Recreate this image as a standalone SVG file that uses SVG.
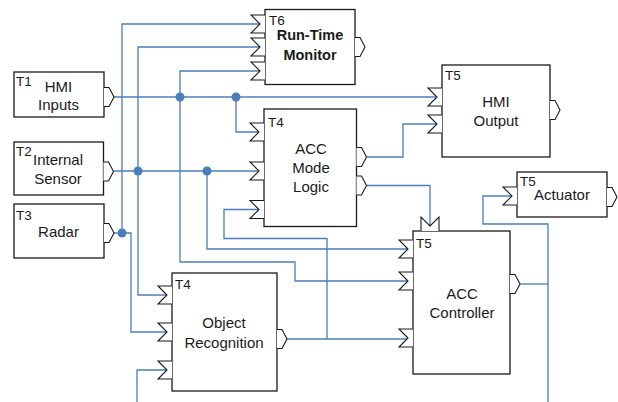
<svg xmlns="http://www.w3.org/2000/svg" width="618" height="402" viewBox="0 0 618 402">
<style>
.box{fill:#fff;stroke:#1a1a1a;stroke-width:1.3}
.port{fill:#fff;stroke:#1a1a1a;stroke-width:1.1;stroke-linejoin:miter}
.wire{fill:none;stroke:#4a7ebb;stroke-width:1.3}
.dot{fill:#4a7ebb}
.t{font-family:"Liberation Sans",Arial,sans-serif;font-size:15px;fill:#1a1a1a;text-anchor:middle}
.tag{font-family:"Liberation Sans",Arial,sans-serif;font-size:13.5px;fill:#1a1a1a}
.b{font-weight:bold;font-size:14.5px}
</style>
<defs>
<path id="in" class="port" d="M0,-9 H-14 L-5,0 L-14,9 H0"/>
<path id="out" class="port" d="M0,-9.5 H5 L10,0 L5,9.5 H0"/>
</defs>
<g id="connectors">
<path class="wire" d="M114,97 H437"/>
<path class="wire" d="M260,71 H180 V262 H295 V281 H408"/>
<path class="wire" d="M236,97 V132 H259"/>
<path class="wire" d="M114,171 H259"/>
<path class="wire" d="M260,47 H138 V295 H167"/>
<path class="wire" d="M207,171 V249 H408"/>
<path class="wire" d="M114,233 H122"/>
<path class="wire" d="M260,24 H122 V233 H131 V332 H167"/>
<path class="wire" d="M367,157 H403 V124 H437"/>
<path class="wire" d="M367,185.5 H430 V226"/>
<path class="wire" d="M287,339 H408"/>
<path class="wire" d="M327,339 V238.5 H224 V209.5 H259"/>
<path class="wire" d="M520,284 H548"/>
<path class="wire" d="M548,402 V224 H483 V196 H512"/>
<path class="wire" d="M137,402 V370 H167"/>
<circle class="dot" cx="180" cy="97" r="4.5"/>
<circle class="dot" cx="236" cy="97" r="4.5"/>
<circle class="dot" cx="138" cy="171" r="4.5"/>
<circle class="dot" cx="207" cy="171" r="4.5"/>
<circle class="dot" cx="122" cy="233" r="4.5"/>
</g>
<g id="t1-hmi-inputs">
<rect class="box" x="14" y="72" width="90" height="45"/>
<use href="#out" x="104" y="97"/>
<text class="tag" x="16" y="86">T1</text>
<text class="t" x="58.5" y="92">HMI</text>
<text class="t" x="58.5" y="110">Inputs</text>
</g>
<g id="t2-internal-sensor">
<rect class="box" x="14" y="142" width="89.5" height="53"/>
<use href="#out" x="103.5" y="171.5"/>
<text class="tag" x="16" y="156">T2</text>
<text class="t" x="58" y="164.5">Internal</text>
<text class="t" x="58" y="184">Sensor</text>
</g>
<g id="t3-radar">
<rect class="box" x="14" y="204" width="90" height="54"/>
<use href="#out" x="104" y="233"/>
<text class="tag" x="16" y="220">T3</text>
<text class="t" x="58.5" y="237">Radar</text>
</g>
<g id="t6-run-time-monitor">
<rect class="box" x="265" y="9.5" width="90" height="75"/>
<use href="#in" x="265" y="24"/>
<use href="#in" x="265" y="47"/>
<use href="#in" x="265" y="71"/>
<use href="#out" x="355" y="47"/>
<text class="tag" x="269" y="25">T6</text>
<text class="t b" x="310" y="40">Run-Time</text>
<text class="t b" x="310" y="60">Monitor</text>
</g>
<g id="t5-hmi-output">
<rect class="box" x="442" y="65" width="108" height="92"/>
<use href="#in" x="442" y="97"/>
<use href="#in" x="442" y="124"/>
<use href="#out" x="550" y="110"/>
<text class="tag" x="445" y="80">T5</text>
<text class="t" x="496" y="107">HMI</text>
<text class="t" x="496" y="126">Output</text>
</g>
<g id="t4-acc-mode-logic">
<rect class="box" x="264" y="109" width="92.5" height="117.5"/>
<use href="#in" x="264" y="132"/>
<use href="#in" x="264" y="171"/>
<use href="#in" x="264" y="209.5"/>
<use href="#out" x="356.5" y="157"/>
<use href="#out" x="356.5" y="185.5"/>
<text class="tag" x="268" y="127">T4</text>
<text class="t" x="311" y="154">ACC</text>
<text class="t" x="311" y="173">Mode</text>
<text class="t" x="311" y="192">Logic</text>
</g>
<g id="t5-actuator">
<rect class="box" x="517" y="172" width="90" height="45"/>
<use href="#in" x="517" y="196"/>
<use href="#out" x="607" y="197"/>
<text class="tag" x="520" y="186">T5</text>
<text class="t" x="562" y="200">Actuator</text>
</g>
<g id="t5-acc-controller">
<rect class="box" x="413" y="231" width="97" height="143"/>
<use href="#in" x="413" y="249"/>
<use href="#in" x="413" y="281"/>
<use href="#in" x="413" y="338"/>
<path class="port" d="M421,231 V217 L430,226 L439,217 V231"/>
<use href="#out" x="510" y="284"/>
<text class="tag" x="416" y="248">T5</text>
<text class="t" x="462" y="299">ACC</text>
<text class="t" x="462" y="318">Controller</text>
</g>
<g id="t4-object-recognition">
<rect class="box" x="172" y="273" width="105" height="118"/>
<use href="#in" x="172" y="295"/>
<use href="#in" x="172" y="332"/>
<use href="#in" x="172" y="370"/>
<use href="#out" x="277" y="339"/>
<text class="tag" x="175" y="289">T4</text>
<text class="t" x="224" y="328">Object</text>
<text class="t" x="224" y="348">Recognition</text>
</g>
</svg>
